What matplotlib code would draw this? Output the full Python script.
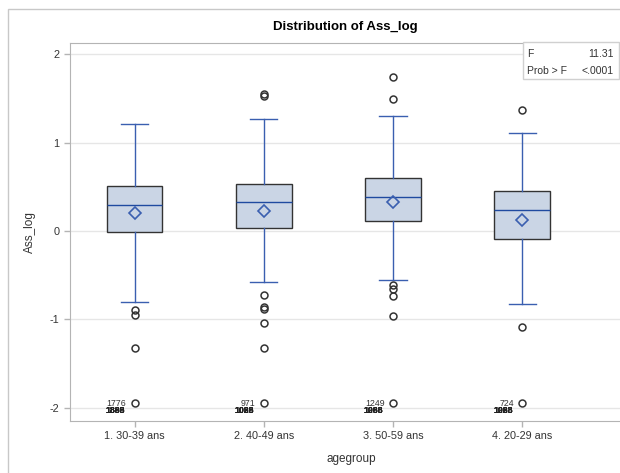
import matplotlib
matplotlib.use("Agg")
import matplotlib.pyplot as plt
from matplotlib.patches import Rectangle

plt.rcParams['font.family'] = ['Liberation Sans', 'DejaVu Sans']

# values
groups = ["1. 30-39 ans", "2. 40-49 ans", "3. 50-59 ans", "4. 20-29 ans"]
whisk_lo = [-0.80, -0.58, -0.55, -0.82]
q1 = [-0.01, 0.03, 0.12, -0.09]
medians = [0.30, 0.33, 0.39, 0.24]
means = [0.21, 0.23, 0.33, 0.13]
q3 = [0.51, 0.53, 0.60, 0.45]
whisk_hi = [1.21, 1.27, 1.30, 1.11]
outliers = [
    [-0.89, -0.95, -1.32, -1.95],
    [1.53, 1.55, -0.72, -0.86, -0.88, -1.04, -1.32, -1.95],
    [1.74, 1.50, -0.61, -0.65, -0.74, -0.96, -1.95],
    [1.37, -1.09, -1.95],
]
min_value = -1.95
min_labels = ["1776", "971", "1249", "724"]
# overlapping obs labels stacked under the minimum (not legible)
stacked_labels = [
    ["1888", "1889", "1893", "1895"],
    ["1028", "1029", "1088", "1098"],
    ["1068", "1086", "1098", "1288"],
    ["1028", "1088", "1098", "1288"],
]
f_value = "11.31"
p_value = "<.0001"

blue = "#3a5fb0"
gray = "#b4b4b4"
text_col = "#333333"

fig = plt.figure(figsize=(6.2, 4.73), dpi=100)
W, H = 620, 473


def fx(px):
    return px / W


def fy(py):
    return 1 - py / H


# outer frame of the graph (cut on the right in the reference)
fig.patches.append(Rectangle((fx(8), fy(480)), fx(660 - 8), fy(9) - fy(480),
                             transform=fig.transFigure, fill=False,
                             edgecolor="#c8c8c8", linewidth=1.0))

ax = fig.add_axes([fx(70), fy(421), fx(632 - 70), fy(43) - fy(421)])

stats = []
for i in range(len(groups)):
    stats.append({
        "med": medians[i], "q1": q1[i], "q3": q3[i],
        "whislo": whisk_lo[i], "whishi": whisk_hi[i],
        "mean": means[i], "fliers": outliers[i], "label": groups[i],
    })

pos = list(range(len(groups)))
ax.bxp(stats, positions=pos, widths=0.43, patch_artist=True, showmeans=True,
       boxprops=dict(facecolor="#cad5e5", edgecolor="#333333", linewidth=1.0),
       medianprops=dict(color="#1f4aa0", linewidth=1.0),
       whiskerprops=dict(color=blue, linewidth=1.0),
       capprops=dict(color=blue, linewidth=1.0),
       capwidths=0.21,
       meanprops=dict(marker="D", markerfacecolor="none", markeredgecolor=blue,
                      markersize=6.5, markeredgewidth=1.2),
       flierprops=dict(marker="o", markerfacecolor="none", markeredgecolor="#333333",
                       markersize=5, markeredgewidth=1.1),
       zorder=3)

for i in pos:
    ax.annotate(min_labels[i], (i, min_value), xytext=(-6, 0), textcoords="offset points",
                ha="right", va="center", fontsize=6.3, color=text_col)
    for lab in stacked_labels[i]:
        ax.annotate(lab, (i, min_value), xytext=(-21, -5), textcoords="offset points",
                    ha="left", va="center", fontsize=6.3, color="#222222",
                    fontweight="bold")

ax.set_xlim(-0.5, 3.85)
ax.set_ylim(-2.15, 2.13)
ax.set_yticks([-2, -1, 0, 1, 2])
ax.set_yticklabels(["-2", "-1", "0", "1", "2"])
ax.set_xticks(pos)
ax.set_xticklabels(groups)
ax.grid(axis="y", color="#e6e6e6", linewidth=1.0, zorder=0)
ax.set_axisbelow(True)
for side in ["left", "bottom", "top"]:
    ax.spines[side].set_color(gray)
ax.spines["right"].set_visible(False)
ax.tick_params(axis="both", colors=gray, labelcolor=text_col, labelsize=7.8,
               length=4, width=1)
ax.set_xlabel("agegroup", fontsize=8.5, color=text_col, labelpad=8)
ax.set_ylabel("Ass_log", fontsize=8.5, color=text_col, labelpad=10)

fig.text(fx(345), fy(27), "Distribution of Ass_log", ha="center", va="center",
         fontsize=9.5, fontweight="bold", color="#000000")

# inset statistics table
fig.patches.append(Rectangle((fx(523), fy(79)), fx(619) - fx(523), fy(42) - fy(79),
                             transform=fig.transFigure, facecolor="white",
                             edgecolor="#d0d0d0", linewidth=1.0, zorder=5))
fig.text(fx(527), fy(54), "F", ha="left", va="center", fontsize=7.5, color=text_col, zorder=6)
fig.text(fx(614), fy(54), f_value, ha="right", va="center", fontsize=7.5, color=text_col, zorder=6)
fig.text(fx(527), fy(70.5), "Prob > F", ha="left", va="center", fontsize=7.5, color=text_col, zorder=6)
fig.text(fx(614), fy(70.5), p_value, ha="right", va="center", fontsize=7.5, color=text_col, zorder=6)

fig.savefig("out.png", dpi=100)
